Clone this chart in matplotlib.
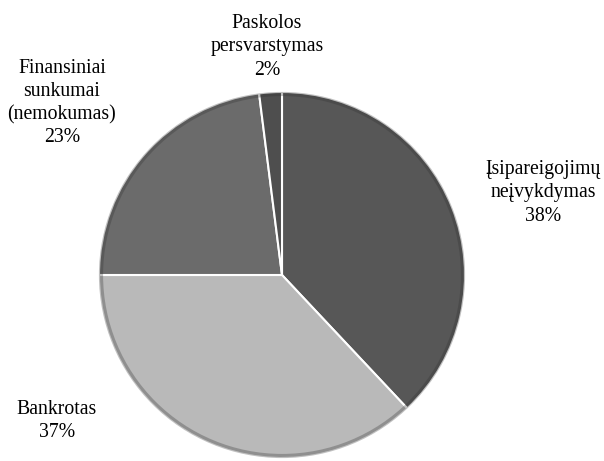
import matplotlib
matplotlib.use('Agg')
import matplotlib.pyplot as plt

# data
labels = ['Įsipareigojimų\nneįvykdymas', 'Bankrotas', 'Finansiniai\nsunkumai\n(nemokumas)', 'Paskolos\npersvarstymas']
shares = [38, 37, 23, 2]
colors = ['#575757', '#b9b9b9', '#6b6b6b', '#4e4e4e']

# label centres in pixel coords (x, y from top)
label_pos = [(543, 193), (57, 421), (62, 103), (267, 47)]

W, H = 604, 461
fig = plt.figure(figsize=(W / 100, H / 100), dpi=100)
ax = fig.add_axes([0, 0, 1, 1])
ax.set_xlim(0, W)
ax.set_ylim(0, H)
ax.set_aspect('equal')
ax.axis('off')

cx, cy, r = 282, H - 275, 183
wedges, _ = ax.pie(shares, colors=colors, startangle=90, counterclock=False,
                   center=(cx, cy), radius=r, frame=True,
                   wedgeprops=dict(edgecolor='white', linewidth=1.5))
ax.set_xlim(0, W)
ax.set_ylim(0, H)
ax.axis('off')

# soft darker rim like the bevel in the original
rim = plt.Circle((cx, cy), r - 2, fill=False, edgecolor='#303030', linewidth=3, alpha=0.3)
ax.add_patch(rim)

for lab, s, (x, y) in zip(labels, shares, label_pos):
    ax.text(x, H - y, f'{lab}\n{s}%', ha='center', va='center',
            family='Liberation Serif', fontsize=14.2, linespacing=1.3, color='black')

fig.savefig('out.png', dpi=100)
